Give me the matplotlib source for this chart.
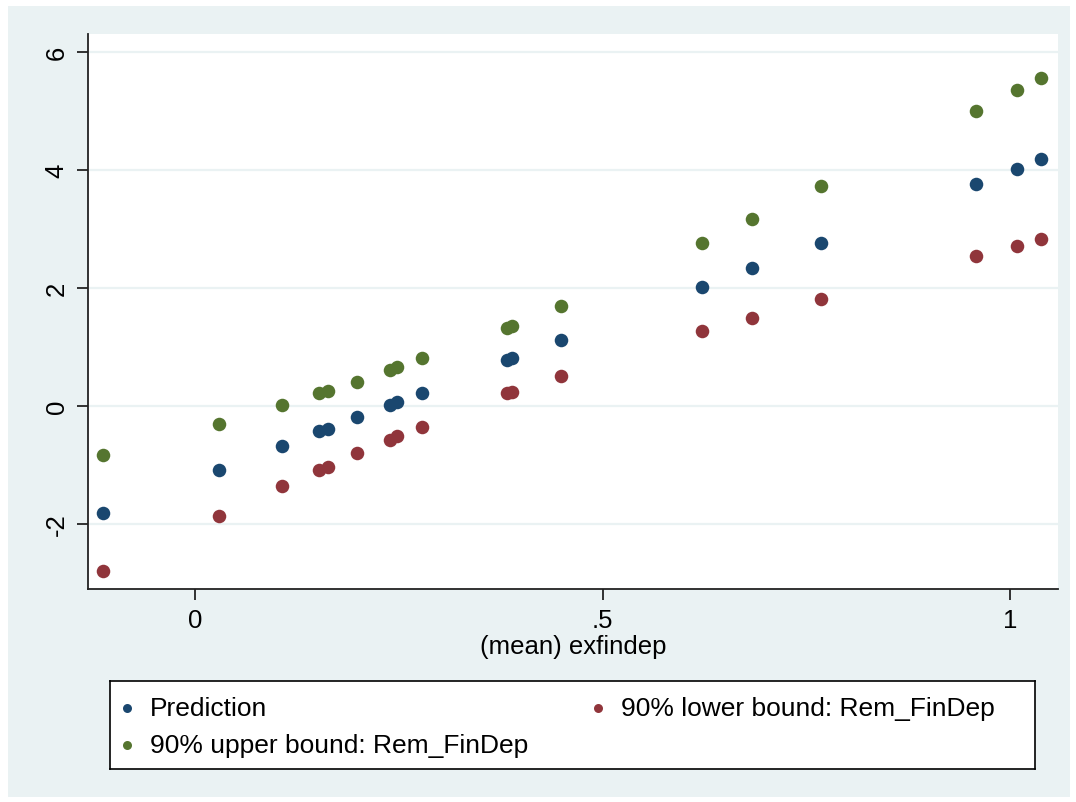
import matplotlib
matplotlib.use("Agg")
import matplotlib.pyplot as plt
from matplotlib.patches import Rectangle
import numpy as np

# (mean) exfindep values, one per observation
exfindep = [-0.1125, 0.0294, 0.1064, 0.1525, 0.1636, 0.1984, 0.2393, 0.2475,
            0.2789, 0.3828, 0.3890, 0.4491, 0.6225, 0.6838, 0.7685, 0.9577,
            1.0090, 1.0380]
prediction = [-1.814, -1.085, -0.678, -0.424, -0.395, -0.186, 0.017, 0.068,
              0.215, 0.775, 0.808, 1.114, 2.007, 2.329, 2.763, 3.753,
              4.012, 4.186]
lower90 = [-2.797, -1.864, -1.366, -1.085, -1.034, -0.797, -0.576, -0.519,
           -0.366, 0.207, 0.224, 0.498, 1.261, 1.486, 1.808, 2.532,
           2.707, 2.825]
upper90 = [-0.831, -0.310, 0.017, 0.210, 0.244, 0.407, 0.605, 0.656,
           0.808, 1.317, 1.351, 1.695, 2.763, 3.169, 3.719, 4.995,
           5.346, 5.549]

series_labels = ["Prediction", "90% lower bound: Rem_FinDep",
                 "90% upper bound: Rem_FinDep"]
xticks = [0, 0.5, 1]
xtick_labels = ["0", ".5", "1"]
yticks = [-2, 0, 2, 4, 6]

BLUE = "#1a476f"
RED = "#90353b"
GREEN = "#55752f"
BG = "#eaf2f3"

W, H = 1076, 803
plt.rcParams["font.family"] = ["Liberation Sans", "DejaVu Sans"]

fig = plt.figure(figsize=(W / 100, H / 100), dpi=100)
fig.patch.set_facecolor("white")
fig.patches.append(Rectangle((8 / W, 5 / H), (1070 - 8) / W, (797 - 6) / H,
                             transform=fig.transFigure, facecolor=BG,
                             edgecolor="none", zorder=-10))

ax = fig.add_axes([88 / W, 1 - 590 / H, (1058 - 88) / W, (590 - 35) / H])
ax.set_facecolor("white")
ax.set_xlim(-0.1313, 1.0589)
ax.set_ylim(-3.107, 6.30)

for yt in yticks:
    ax.axhline(yt, color=BG, lw=1.6, zorder=1)

ms = 95
ax.scatter(exfindep, prediction, s=ms, marker="o", color=BLUE, lw=0, zorder=3)
ax.scatter(exfindep, lower90, s=ms, marker="o", color=RED, lw=0, zorder=3)
ax.scatter(exfindep, upper90, s=ms, marker="o", color=GREEN, lw=0, zorder=3)

for side in ["top", "right"]:
    ax.spines[side].set_visible(False)
for side in ["left", "bottom"]:
    ax.spines[side].set_linewidth(1.3)
    ax.spines[side].set_color("#222222")

ax.set_xticks(xticks)
ax.set_xticklabels(xtick_labels)
ax.set_yticks(yticks)
ax.set_yticklabels([str(v) for v in yticks], rotation=90, va="center")
ax.tick_params(axis="both", length=8, width=1.3, color="#222222",
               labelsize=18.5, pad=6)
ax.set_xlabel("(mean) exfindep", fontsize=18.5, labelpad=1)

# legend box drawn as its own small axes
lax = fig.add_axes([110 / W, 1 - 770 / H, (1035 - 110) / W, (770 - 682) / H])
lax.set_xlim(0, 925)
lax.set_ylim(88, 0)
lax.set_xticks([])
lax.set_yticks([])
for sp in lax.spines.values():
    sp.set_linewidth(1.2)
    sp.set_color("black")
lax.set_facecolor("white")

entries = [(series_labels[0], BLUE, 17, 27),
           (series_labels[1], RED, 488, 27),
           (series_labels[2], GREEN, 17, 64)]
for label, col, lx, ly in entries:
    lax.scatter([lx], [ly], s=42, marker="o", color=col, lw=0)
    lax.text(lx + 23, ly, label, fontsize=19, va="center", ha="left")

fig.savefig("out.png", dpi=100, facecolor=fig.get_facecolor())
